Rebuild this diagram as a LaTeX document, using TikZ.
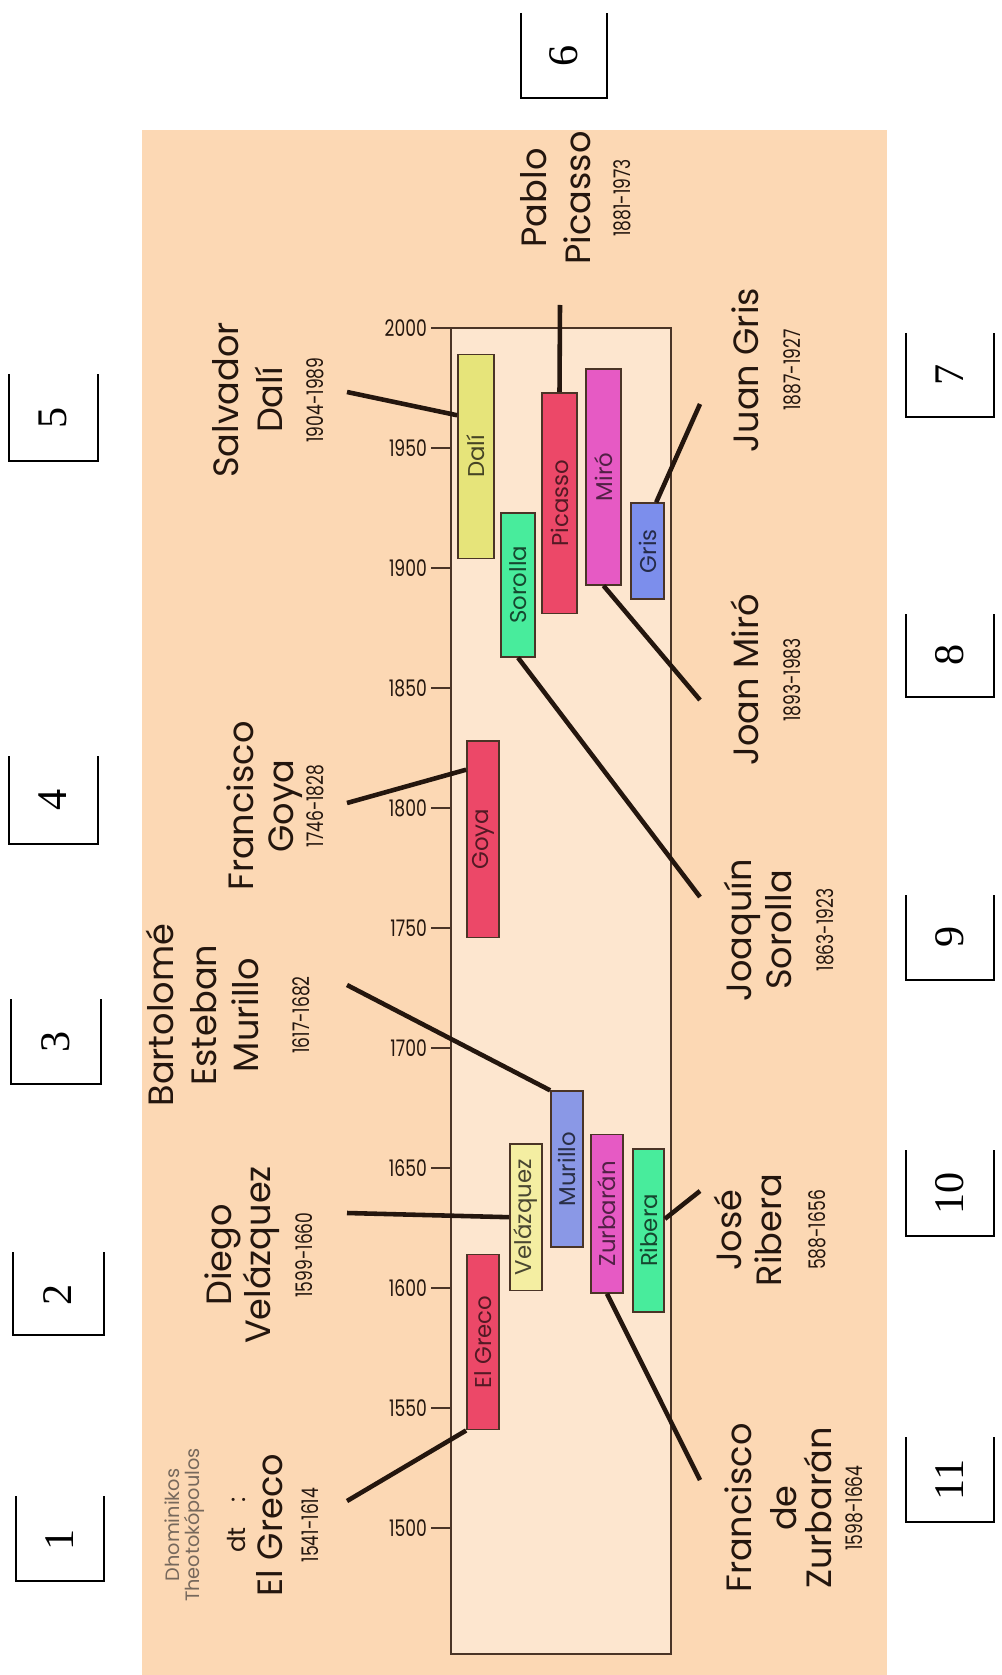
\documentclass[tikz,border=0pt]{standalone}
\usepackage{fontspec}
\setmainfont{Poppins}
\newfontfamily\numfont{Liberation Serif}
\usetikzlibrary{calc,fit}
\definecolor{Ink}{HTML}{24160E}
\definecolor{Muted}{HTML}{76685C}
\definecolor{Peach}{HTML}{FCD8B4}
\definecolor{Pale}{HTML}{FDE6CF}
\definecolor{Frame}{HTML}{4A3426}
\definecolor{Rose}{HTML}{EC4868}
\definecolor{Straw}{HTML}{F4EEA2}
\definecolor{Lemon}{HTML}{E6E47A}
\definecolor{Periwinkle}{HTML}{8A98E6}
\definecolor{Orchid}{HTML}{E65AC4}
\definecolor{Mint}{HTML}{48EC9C}
\definecolor{Sky}{HTML}{7C8EEC}
\newcommand\dates[1]{{\fontsize{13}{14}\selectfont\scalebox{.75}[1]{#1}}}
\tikzset{conn/.style={draw=Ink,line width=2.6pt},lifebar/.style={draw=Frame,line width=1pt,inner sep=0pt},barlabel/.style={rotate=90,inner sep=0pt,font=\fontsize{13}{15}\selectfont},who/.style={rotate=90,align=center,text=Ink,font=\fontsize{20}{24}\selectfont},numbox/.style={draw=black,line width=1.3pt},numlabel/.style={rotate=90,font=\numfont\fontsize{24}{26}\selectfont},tick/.style={draw=Frame,line width=.8pt},ticklabel/.style={text=Ink,font=\fontsize{13}{15}\selectfont}}

\begin{document}
\begin{tikzpicture}[x=0.02cm,y=-0.02cm]
\useasboundingbox (0,0) rectangle (1001,1675);
\fill[white] (0,0) rectangle (1001,1675);
\fill[Peach] (142,130) rectangle (887,1675);
\draw[Frame,line width=.8pt,fill=Pale] (451,328) rectangle (671,1654);
% time axis
\foreach \yearval in {1500,1550,...,2000}{
  \draw[tick] (431,{328+(2000-\yearval)*2.4}) -- (451,{328+(2000-\yearval)*2.4});
  \node[ticklabel,anchor=east] (tick\yearval) at (433,{328+(2000-\yearval)*2.4}) {\scalebox{.75}[1]{\yearval}};
}
% connectors
\coordinate (grecoTip) at (347,1501);
\coordinate (velTip) at (347,1213);
\coordinate (murTip) at (347,985);
\coordinate (goyaTip) at (347,803);
\coordinate (daliTip) at (347,392);
\coordinate (picTip) at (560,305);
\coordinate (grisTip) at (700,404);
\coordinate (miroTip) at (700,700);
\coordinate (sorTip) at (700,897);
\coordinate (ribTip) at (700,1191);
\coordinate (zurTip) at (700,1480);
% lifetimes
\node[lifebar,fill=Rose,fit={(467,1254.4) (499,1429.6)}] (greco) {};
\node[lifebar,fill=Straw,fit={(510,1144) (542,1290.4)}] (vel) {};
\node[lifebar,fill=Periwinkle,fit={(551,1091.2) (583,1247.2)}] (mur) {};
\node[lifebar,fill=Orchid,fit={(591,1134.4) (623,1292.8)}] (zur) {};
\node[lifebar,fill=Mint,fit={(633,1148.8) (664,1312)}] (rib) {};
\node[lifebar,fill=Rose,fit={(467,740.8) (499,937.6)}] (goya) {};
\node[lifebar,fill=Mint,fit={(501,512.8) (535,656.8)}] (sor) {};
\node[lifebar,fill=Lemon,fit={(458,354.4) (494,558.4)}] (dali) {};
\node[lifebar,fill=Rose,fit={(542,392.8) (577,613.6)}] (pic) {};
\node[lifebar,fill=Orchid,fit={(586,368.8) (621,584.8)}] (miro) {};
\node[lifebar,fill=Sky,fit={(631,503.2) (664,599.2)}] (gris) {};
\node[barlabel,text=Rose!35!black] (grecoTxt) at (greco) {El Greco};
\node[barlabel,text=Straw!30!black] (velTxt) at (vel) {Velázquez};
\node[barlabel,text=Periwinkle!30!black] (murTxt) at (mur) {Murillo};
\node[barlabel,text=Orchid!35!black] (zurTxt) at (zur) {Zurbarán};
\node[barlabel,text=Mint!30!black] (ribTxt) at (rib) {Ribera};
\node[barlabel,text=Rose!35!black] (goyaTxt) at (goya) {Goya};
\node[barlabel,text=Mint!30!black] (sorTxt) at (sor) {Sorolla};
\node[barlabel,text=Lemon!30!black] (daliTxt) at (dali) {Dalí};
\node[barlabel,text=Rose!35!black] (picTxt) at (pic) {Picasso};
\node[barlabel,text=Orchid!35!black] (miroTxt) at (miro) {Miró};
\node[barlabel,text=Sky!30!black] (grisTxt) at (gris) {Gris};
\draw[conn] (grecoTip) -- (greco.south west);
\draw[conn] (velTip) -- (vel.west);
\draw[conn] (murTip) -- (mur.north west);
\draw[conn] (goyaTip) -- ($(goya.north west)!.15!(goya.south west)$);
\draw[conn] (daliTip) -- ($(dali.north west)!.3!(dali.south west)$);
\draw[conn] (picTip) -- (pic.north);
\draw[conn] (grisTip) -- ($(gris.north)!.5!(gris.north east)$);
\draw[conn] (miroTip) -- (miro.south);
\draw[conn] (sorTip) -- (sor.south);
\draw[conn] (ribTip) -- ($(rib.north east)!.43!(rib.south east)$);
\draw[conn] (zurTip) -- (zur.south);
% painters
\node[who] (grecoName) at (242,1525) {{\fontsize{11}{12}\selectfont\color{Muted}Dhominikos}\\[-12.7pt]{\fontsize{11}{12}\selectfont\color{Muted}Theotokópoulos}\\[2pt]{\fontsize{14}{16}\selectfont dt\quad:}\\[-3pt]El Greco\\[-3pt]\dates{1541-1614}};
\node[who] (velName) at (259,1255) {Diego\\[-2pt]Velázquez\\\dates{1599-1660}};
\node[who] (murName) at (228,1015) {Bartolomé\\Esteban\\Murillo\\[5pt]\dates{1617-1682}};
\node[who] (goyaName) at (275,806) {Francisco\\[-1.3pt]Goya\\[-7pt]\dates{1746-1828}};
\node[who] (daliName) at (268,400) {Salvador\\[1.5pt]Dalí\\[-1pt]\dates{1904-1989}};
\node[who] (picName) at (576,198) {Pablo\\[1pt]Picasso\\[-1pt]\dates{1881-1973}};
\node[who] (grisName) at (766,370) {Juan Gris\\\dates{1887-1927}};
\node[who] (miroName) at (766,680) {Joan Miró\\\dates{1893-1983}};
\node[who] (sorName) at (779,930) {Joaquín\\[-1.3pt]Sorolla\\\dates{1863-1923}};
\node[who] (ribName) at (770,1230) {José\\[-1.3pt]Ribera\\[1.5pt]\dates{588-1656}};
\node[who] (zurName) at (794,1508) {Francisco\\[1.5pt]de\\[-4pt]Zurbarán\\[-6pt]\dates{1598-1664}};
% answer boxes
\draw[numbox] (16,1496) -- (16,1581) -- (104,1581) -- (104,1496);
\node[numlabel] (num1) at (60,1540) {1};
\draw[numbox] (13,1252) -- (13,1335) -- (104,1335) -- (104,1252);
\node[numlabel] (num2) at (58,1295) {2};
\draw[numbox] (11,999) -- (11,1084) -- (101,1084) -- (101,999);
\node[numlabel] (num3) at (56,1042) {3};
\draw[numbox] (9,756) -- (9,844) -- (98,844) -- (98,756);
\node[numlabel] (num4) at (53,800) {4};
\draw[numbox] (9,374) -- (9,461) -- (98,461) -- (98,374);
\node[numlabel] (num5) at (53,418) {5};
\draw[numbox] (521,13) -- (521,98) -- (607,98) -- (607,13);
\node[numlabel] (num6) at (564,56) {6};
\draw[numbox] (906,333) -- (906,417) -- (994,417) -- (994,333);
\node[numlabel] (num7) at (950,375) {7};
\draw[numbox] (906,614) -- (906,697) -- (994,697) -- (994,614);
\node[numlabel] (num8) at (950,655) {8};
\draw[numbox] (906,895) -- (906,980) -- (994,980) -- (994,895);
\node[numlabel] (num9) at (950,937) {9};
\draw[numbox] (906,1150) -- (906,1236) -- (994,1236) -- (994,1150);
\node[numlabel] (num10) at (950,1193) {10};
\draw[numbox] (906,1437) -- (906,1522) -- (994,1522) -- (994,1437);
\node[numlabel] (num11) at (950,1480) {11};
\end{tikzpicture}
\end{document}
